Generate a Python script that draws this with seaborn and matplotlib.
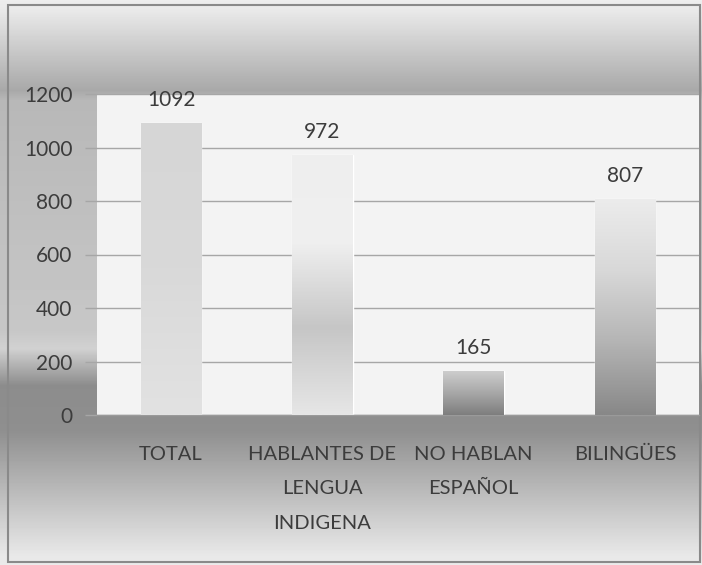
import numpy as np
import pandas as pd
import matplotlib
matplotlib.use("Agg")
import matplotlib.pyplot as plt
import seaborn as sns
from matplotlib.colors import LinearSegmentedColormap
from matplotlib.patches import Rectangle

# datos del grafico
categorias = ["TOTAL", "HABLANTES DE\nLENGUA\nINDIGENA", "NO HABLAN\nESPAÑOL", "BILINGÜES"]
valores = [1092, 972, 165, 807]
ticks_y = [0, 200, 400, 600, 800, 1000, 1200]

sns.set_style("white")
plt.rcParams["font.family"] = ["Lato", "DejaVu Sans"]

W, H = 702, 565
fig = plt.figure(figsize=(W / 100, H / 100), dpi=100)

# fondo degradado de la figura (filas en pixeles desde arriba)
filas = np.arange(H)
stops_y = [0, 8, 90, 100, 330, 348, 385, 430, 555, 565]
stops_c = [0.93, 0.92, 0.66, 0.72, 0.78, 0.82, 0.55, 0.56, 0.91, 0.92]
grad_fondo = np.interp(filas, stops_y, stops_c).reshape(-1, 1)
bg = fig.add_axes([0, 0, 1, 1], zorder=-10)
bg.imshow(grad_fondo, cmap="gray", vmin=0, vmax=1, aspect="auto", extent=[0, 1, 0, 1])
bg.set_axis_off()

# borde exterior
fig.patches.append(Rectangle((8 / W, 1 - 562 / H), (700 - 8) / W, (562 - 5) / H,
                             transform=fig.transFigure, fill=False,
                             edgecolor="#8a8a8a", lw=1.5, zorder=-5))

ax = fig.add_axes([97 / W, 1 - 415 / H, (699 - 97) / W, (415 - 94) / H])
ax.set_facecolor("#f3f3f3")

df = pd.DataFrame({"categoria": categorias, "valor": valores})
sns.barplot(data=df, x="categoria", y="valor", ax=ax, width=0.4,
            color="#d9d9d9", saturation=1, zorder=2)

# degradados de cada barra (claro arriba -> oscuro abajo)
degradados = [
    ["#d6d6d6", "#d9d9d9", "#e2e2e2"],
    ["#eeeeee", "#f0f0f0", "#c6c6c6", "#e6e6e6"],
    ["#cfcfcf", "#a8a8a8", "#7e7e7e"],
    ["#ececec", "#d8d8d8", "#b4b4b4", "#888888"],
]
for patch, cols in zip(ax.patches, degradados):
    cmap = LinearSegmentedColormap.from_list("g", cols)
    x0, y0 = patch.get_x(), patch.get_y()
    x1, y1 = x0 + patch.get_width(), y0 + patch.get_height()
    img = ax.imshow(np.linspace(0, 1, 200).reshape(-1, 1), cmap=cmap, aspect="auto",
                    extent=[x0, x1, y0, y1], origin="upper", zorder=3)
    img.set_clip_path(patch)

ax.set_xlim(-0.49, 3.49)
ax.set_ylim(0, 1200)
ax.set_yticks(ticks_y)

# etiquetas de valores
ax.bar_label(ax.containers[0], labels=[str(v) for v in valores], padding=9.5,
             fontsize=15, color="#3c3c3c", zorder=5)

ax.yaxis.grid(True, color="#a6a6a6", lw=1)
ax.set_axisbelow(True)
for s in ["top", "right", "left"]:
    ax.spines[s].set_visible(False)
ax.spines["bottom"].set_color("#9a9a9a")
ax.spines["bottom"].set_linewidth(1)

ax.tick_params(axis="y", length=8.6, width=1, color="#a6a6a6", pad=9,
               labelsize=15, labelcolor="#3c3c3c", left=True)
ax.tick_params(axis="x", length=0, pad=22, labelsize=14.5, labelcolor="#3c3c3c")

ax.set_xlabel("")
ax.set_ylabel("")

# interlineado de las etiquetas
fig.canvas.draw()
for lab in ax.get_xticklabels():
    lab.set_linespacing(2.25)
    lab.set_multialignment("center")

fig.savefig("out.png", dpi=100)
